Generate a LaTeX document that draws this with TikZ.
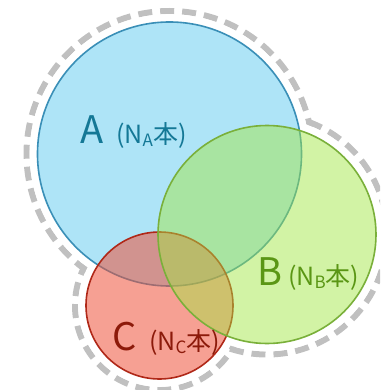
\documentclass[tikz,border=0pt]{standalone}
\usepackage{fontspec}
\setmainfont{Noto Sans CJK JP}
\definecolor{afill}{RGB}{174,228,247}
\definecolor{aline}{RGB}{58,143,183}
\definecolor{atext}{RGB}{20,120,150}
\definecolor{bfill}{RGB}{163,230,68}
\definecolor{bline}{RGB}{122,176,58}
\definecolor{btext}{RGB}{90,150,20}
\definecolor{cfill}{RGB}{239,82,59}
\definecolor{cline}{RGB}{176,40,24}
\definecolor{ctext}{RGB}{140,26,10}
\definecolor{dashgray}{RGB}{192,192,192}
\begin{document}
\begin{tikzpicture}[x=1pt,y=-1pt,
  dashline/.style={draw=dashgray, line width=6pt, dash pattern=on 14pt off 8pt},
  setlabel/.style={anchor=base west, inner sep=0pt, font=\fontsize{38}{38}\selectfont},
  setcount/.style={anchor=base west, inner sep=0pt, font=\fontsize{25}{25}\selectfont}]
\useasboundingbox (0,0) rectangle (380,390);
\clip (0,0) rectangle (380,390);
\coordinate (ca) at (169.5,154);
\coordinate (cb) at (267,234.5);
\coordinate (cc) at (159.5,305.5);
% dashed outline of the union
\path[dashline] (ca) circle[radius=143pt];
\path[dashline] (cb) circle[radius=120pt];
\path[dashline] (cc) circle[radius=84.5pt];
\fill[white] (ca) circle[radius=139.8pt];
\fill[white] (cb) circle[radius=116.8pt];
\fill[white] (cc) circle[radius=81.3pt];
% sets
\path[fill=afill, draw=aline, line width=1.6pt] (ca) circle[radius=132pt];
\path[fill=cfill, fill opacity=0.55, draw=cline, line width=1.6pt] (cc) circle[radius=73.5pt];
\path[fill=bfill, fill opacity=0.48, draw=bline, line width=1.6pt] (cb) circle[radius=109pt];
% labels
\node[setlabel, text=atext] (la) at (80,143) {A};
\node[setcount, text=atext] (na) at (116,143) {(N\raisebox{-3.5pt}{\fontsize{17}{17}\selectfont A}本)};
\node[setlabel, text=btext] (lb) at (257,285) {B};
\node[setcount, text=btext] (nb) at (288,285) {(N\raisebox{-3.5pt}{\fontsize{17}{17}\selectfont B}本)};
\node[setlabel, text=ctext] (lc) at (112,350) {C};
\node[setcount, text=ctext] (nc) at (149,350) {(N\raisebox{-3.5pt}{\fontsize{17}{17}\selectfont C}本)};
\end{tikzpicture}
\end{document}
